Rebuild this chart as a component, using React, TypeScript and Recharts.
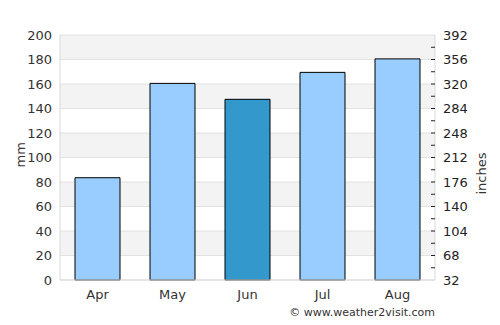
import { BarChart, Bar, XAxis, YAxis, CartesianGrid, Cell } from 'recharts';

const months = ['Apr', 'May', 'Jun', 'Jul', 'Aug'];
const rainfallMm = [83.5, 160.5, 147.5, 169.5, 180.5];
const highlightMonth = 'Jun';
const mmTicks = [0, 20, 40, 60, 80, 100, 120, 140, 160, 180, 200];
const rightTicks = [32, 50, 68, 86, 104, 122, 140, 158, 176, 194, 212, 230, 248, 266, 284, 302, 320, 338, 356, 374, 392];

const data = months.map((m, i) => ({ month: m, mm: rainfallMm[i] }));

const font = 'DejaVu Sans, sans-serif';

// right axis: short marks inside the plot, label only every other tick
function renderRightTick(props: any) {
  const { x, y, payload } = props;
  const v = Number(payload.value);
  const major = (v - 32) % 36 === 0;
  return (
    <g key={`rt-${v}`}>
      {v !== 32 && v !== 392 && (
        <line x1={x - 12} x2={x - 8} y1={y} y2={y} stroke="#222" strokeWidth={1} />
      )}
      {major && (
        <text x={x} y={y} dy="0.355em" textAnchor="start" fill="#222" fontSize={13} fontFamily={font}>
          {v}
        </text>
      )}
    </g>
  );
}

export default function App() {
  return (
    <div style={{ position: 'absolute', left: 0, top: 0, width: 500, height: 325, background: '#fff' }}>
      <BarChart
        width={500}
        height={325}
        data={data}
        margin={{ top: 35, right: 0, left: 0, bottom: 0 }}
        barCategoryGap="20%"
      >
        <CartesianGrid
          yAxisId="mm"
          vertical={false}
          stroke="#e2e2e2"
          horizontalFill={['#f3f3f3', '#ffffff']}
          fillOpacity={1}
        />
        <XAxis
          dataKey="month"
          height={45}
          tickLine={false}
          tickMargin={4}
          axisLine={{ stroke: '#d8d8d8' }}
          tick={{ fill: '#333', fontSize: 13, fontFamily: font }}
        />
        <YAxis
          yAxisId="mm"
          width={60}
          domain={[0, 200]}
          ticks={mmTicks}
          interval={0}
          tickLine={false}
          axisLine={{ stroke: '#d8d8d8' }}
          tick={{ fill: '#333', fontSize: 13, fontFamily: font }}
          label={{ value: 'mm', angle: -90, position: 'insideLeft', offset: 20, dy: 10, fill: '#333', fontSize: 13, fontFamily: font }}
        />
        <YAxis
          yAxisId="in"
          orientation="right"
          width={65}
          type="number"
          domain={[32, 392]}
          allowDataOverflow
          ticks={rightTicks}
          interval={0}
          tickLine={false}
          axisLine={{ stroke: '#d8d8d8' }}
          tick={renderRightTick}
          label={{ value: 'inches', angle: -90, position: 'insideRight', offset: 19, dy: -5, fill: '#333', fontSize: 13, fontFamily: font }}
        />
        <Bar yAxisId="mm" dataKey="mm" stroke="#000" strokeWidth={1} isAnimationActive={false}>
          {data.map((d) => (
            <Cell key={d.month} fill={d.month === highlightMonth ? '#3399cc' : '#99ccff'} />
          ))}
        </Bar>
      </BarChart>
      <div
        style={{
          position: 'absolute',
          right: 65,
          top: 306,
          fontSize: 11,
          fontFamily: font,
          color: '#333',
          whiteSpace: 'nowrap',
        }}
      >
        © www.weather2visit.com
      </div>
    </div>
  );
}
